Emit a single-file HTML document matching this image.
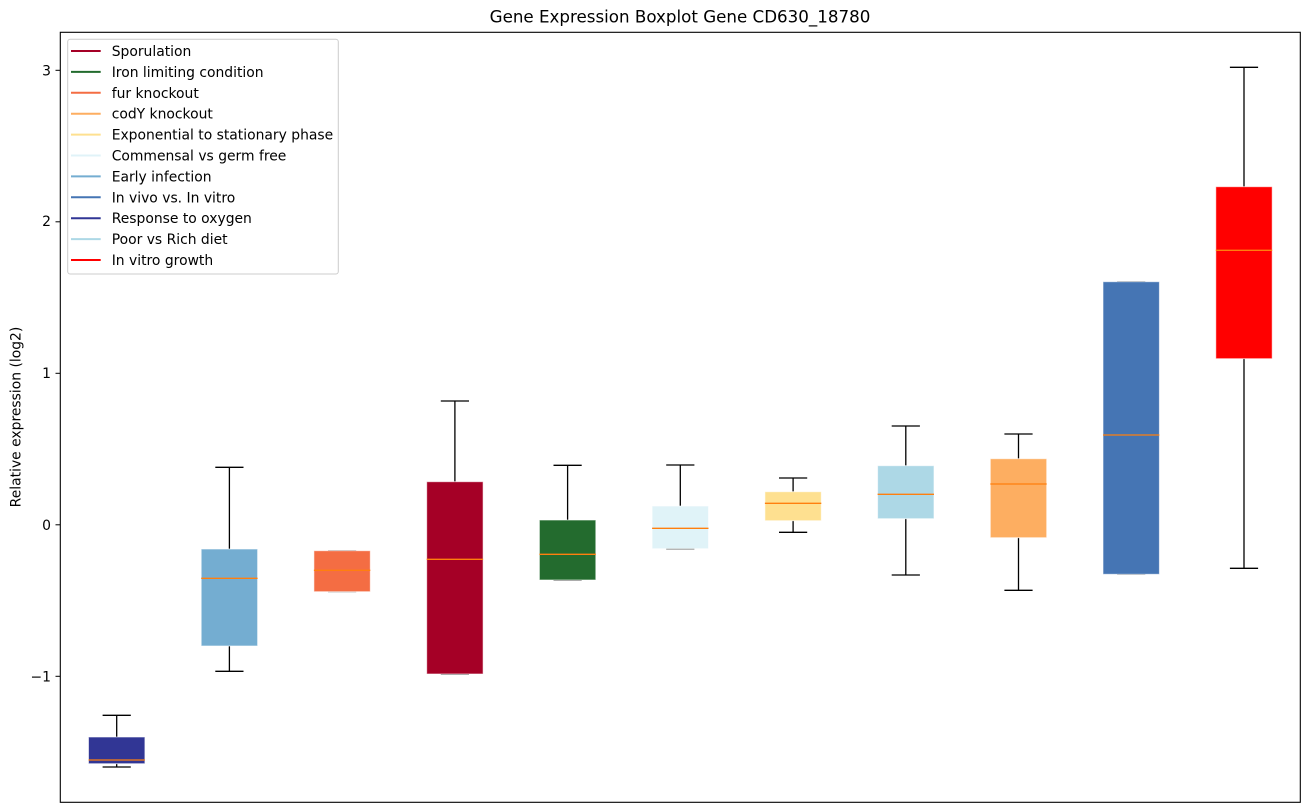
<!DOCTYPE html>
<html><head><meta charset="utf-8"><style>
html,body{margin:0;padding:0;background:#fff;}
svg{display:block;font-family:"DejaVu Sans","Liberation Sans",sans-serif;}
</style></head><body>
<svg width="1309" height="812" viewBox="0 0 1309 812" xmlns="http://www.w3.org/2000/svg">
<rect width="1309" height="812" fill="#fff"/>
<text x="680" y="22.5" font-size="16.7" text-anchor="middle" fill="#000">Gene Expression Boxplot Gene CD630_18780</text>
<text transform="translate(20.5,417) rotate(-90)" font-size="13.9" text-anchor="middle" fill="#000">Relative expression (log2)</text>
<g font-size="13.9" text-anchor="end" fill="#000">
<text x="51" y="75.3">3</text>
<text x="51" y="226">2</text>
<text x="51" y="378">1</text>
<text x="51" y="529.8">0</text>
<text x="51" y="681.3">−1</text>
</g>
<g stroke="#000" stroke-width="1">
<line x1="55.5" y1="70.3" x2="60.3" y2="70.3"/>
<line x1="55.5" y1="221.8" x2="60.3" y2="221.8"/>
<line x1="55.5" y1="373.3" x2="60.3" y2="373.3"/>
<line x1="55.5" y1="524.8" x2="60.3" y2="524.8"/>
<line x1="55.5" y1="676.3" x2="60.3" y2="676.3"/>
</g>
<g id="boxes">
<!-- whiskers & caps -->
<g stroke="#000" stroke-width="1.3" fill="none">
<path d="M116.7 715.3V737 M116.7 763.7V767 M102.6 715.3H130.8 M102.6 767H130.8"/>
<path d="M229.4 467.3V549 M229.4 646V671.3 M215.3 467.3H243.5 M215.3 671.3H243.5"/>
<path d="M328 550.7H356.2 M328 591.7H356.2" stroke="#999"/>
<path d="M454.9 401V481.7 M440.8 401H469 M440.8 674H469"/>
<path d="M567.6 465.3V520 M553.5 465.3H581.7 M553.5 580H581.7"/>
<path d="M680.3 465V506 M666.2 465H694.4 M666.2 548.7H694.4"/>
<path d="M793.1 478V491.7 M793.1 520.7V532.3 M779 478H807.2 M779 532.3H807.2"/>
<path d="M905.8 426V465.7 M905.8 518.7V575 M891.7 426H919.9 M891.7 575H919.9"/>
<path d="M1018.5 434V458.7 M1018.5 537.7V590.3 M1004.4 434H1032.6 M1004.4 590.3H1032.6"/>
<path d="M1117.1 281.7H1145.3 M1117.1 574.3H1145.3" stroke="#999"/>
<path d="M1244 67.3V186.7 M1244 358.7V568.3 M1229.9 67.3H1258.1 M1229.9 568.3H1258.1"/>
</g>
<!-- boxes -->
<g stroke="#ffffff" stroke-opacity="0.6" stroke-width="1">
<rect x="88.5" y="737" width="56.4" height="26.7" fill="#313695"/>
<rect x="201.2" y="549" width="56.4" height="97" fill="#74add1"/>
<rect x="313.9" y="550.7" width="56.4" height="41" fill="#f46d43"/>
<rect x="426.7" y="481.7" width="56.4" height="192.3" fill="#a50026"/>
<rect x="539.4" y="520" width="56.4" height="60" fill="#236b2e"/>
<rect x="652.1" y="506" width="56.4" height="42.7" fill="#e0f3f8"/>
<rect x="764.9" y="491.7" width="56.4" height="29" fill="#fee090"/>
<rect x="877.6" y="465.7" width="56.4" height="53" fill="#add8e6"/>
<rect x="990.3" y="458.7" width="56.4" height="79" fill="#fdae61"/>
<rect x="1103" y="281.7" width="56.4" height="292.6" fill="#4575b4"/>
<rect x="1215.8" y="186.7" width="56.4" height="172" fill="#ff0000"/>
</g>
<!-- medians -->
<g stroke="#ff7f0e" stroke-width="1.3">
<line x1="88.5" y1="760" x2="144.9" y2="760"/>
<line x1="201.2" y1="578.3" x2="257.6" y2="578.3"/>
<line x1="313.9" y1="570.3" x2="370.3" y2="570.3"/>
<line x1="426.7" y1="559.3" x2="483.1" y2="559.3"/>
<line x1="539.4" y1="554.3" x2="595.8" y2="554.3"/>
<line x1="652.1" y1="528.3" x2="708.5" y2="528.3"/>
<line x1="764.9" y1="503.3" x2="821.3" y2="503.3"/>
<line x1="877.6" y1="494.3" x2="934" y2="494.3"/>
<line x1="990.3" y1="484" x2="1046.7" y2="484"/>
<line x1="1103" y1="435" x2="1159.4" y2="435"/>
<line x1="1215.8" y1="250.3" x2="1272.2" y2="250.3"/>
</g>
</g>
<!-- axes frame -->
<rect x="60.3" y="32.3" width="1240" height="770" fill="none" stroke="#000" stroke-width="1.1"/>
<!-- legend -->
<rect x="67.7" y="39.3" width="270.6" height="234.7" rx="2.5" fill="#fff" fill-opacity="0.8" stroke="#cccccc" stroke-width="1"/>
<g stroke-width="2">
<line x1="71" y1="51" x2="100.7" y2="51" stroke="#a50026"/>
<line x1="71" y1="71.9" x2="100.7" y2="71.9" stroke="#236b2e"/>
<line x1="71" y1="92.8" x2="100.7" y2="92.8" stroke="#f46d43"/>
<line x1="71" y1="113.7" x2="100.7" y2="113.7" stroke="#fdae61"/>
<line x1="71" y1="134.6" x2="100.7" y2="134.6" stroke="#fee090"/>
<line x1="71" y1="155.5" x2="100.7" y2="155.5" stroke="#e0f3f8"/>
<line x1="71" y1="176.4" x2="100.7" y2="176.4" stroke="#74add1"/>
<line x1="71" y1="197.3" x2="100.7" y2="197.3" stroke="#4575b4"/>
<line x1="71" y1="218.2" x2="100.7" y2="218.2" stroke="#313695"/>
<line x1="71" y1="239.1" x2="100.7" y2="239.1" stroke="#add8e6"/>
<line x1="71" y1="260" x2="100.7" y2="260" stroke="#ff0000"/>
</g>
<g font-size="13.9" fill="#000">
<text x="111.7" y="56">Sporulation</text>
<text x="111.7" y="76.9">Iron limiting condition</text>
<text x="111.7" y="97.8">fur knockout</text>
<text x="111.7" y="118.7">codY knockout</text>
<text x="111.7" y="139.6">Exponential to stationary phase</text>
<text x="111.7" y="160.5">Commensal vs germ free</text>
<text x="111.7" y="181.4">Early infection</text>
<text x="111.7" y="202.3">In vivo vs. In vitro</text>
<text x="111.7" y="223.2">Response to oxygen</text>
<text x="111.7" y="244.1">Poor vs Rich diet</text>
<text x="111.7" y="265">In vitro growth</text>
</g>
</svg>
</body></html>
